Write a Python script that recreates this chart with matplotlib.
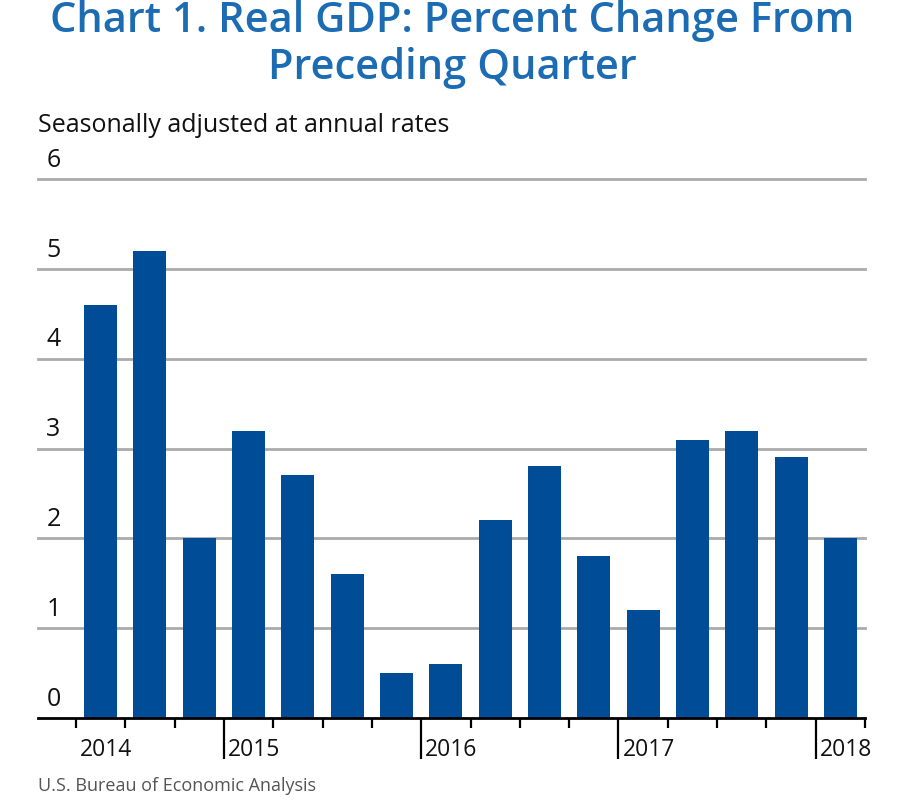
import matplotlib
matplotlib.use("Agg")
import matplotlib.pyplot as plt
import numpy as np

# quarterly real GDP change, 2014Q2 .. 2018Q1
quarters = ["2014Q2", "2014Q3", "2014Q4",
            "2015Q1", "2015Q2", "2015Q3", "2015Q4",
            "2016Q1", "2016Q2", "2016Q3", "2016Q4",
            "2017Q1", "2017Q2", "2017Q3", "2017Q4",
            "2018Q1"]
values = [4.6, 5.2, 2.0,
          3.2, 2.7, 1.6, 0.5,
          0.6, 2.2, 2.8, 1.8,
          1.2, 3.1, 3.2, 2.9,
          2.0]
years = ["2014", "2015", "2016", "2017", "2018"]
year_start = [-0.5, 2.5, 6.5, 10.5, 14.5]
yticks = [0, 1, 2, 3, 4, 5, 6]

bar_color = "#004c97"
title_color = "#1c6cb4"

plt.rcParams['font.family'] = ['Open Sans', 'DejaVu Sans']

fig = plt.figure(figsize=(9.05, 8.01), dpi=100)
ax = fig.add_axes([38 / 905, 1 - 718 / 801, 827 / 905, (718 - 179) / 801])

x = np.arange(len(values))
ax.bar(x, values, width=0.67, color=bar_color, zorder=3)

ax.set_xlim(-0.5 - 38 / 49.3, len(values) - 0.5)
ax.set_ylim(0, 6)

# gridlines
for v in yticks[1:]:
    ax.axhline(v, color="#aaaaaa", lw=2, zorder=1, clip_on=False)

# y labels above gridlines
for v in yticks:
    ax.text(0.01, v + 0.07, str(v), transform=ax.get_yaxis_transform(),
            fontsize=18, va="bottom", ha="left", color="#111111")

for s in ["top", "right", "left"]:
    ax.spines[s].set_visible(False)
ax.spines["bottom"].set_linewidth(2)
ax.spines["bottom"].set_zorder(4)

ax.set_yticks([])
ax.set_xticks(year_start[1:])
ax.set_xticks(np.arange(-0.5, len(values)), minor=True)
ax.tick_params(axis="x", which="major", length=29.5, width=1.6, labelbottom=False)
ax.tick_params(axis="x", which="minor", length=7.5, width=1.6)

for yr, xs in zip(years, year_start):
    ax.annotate(yr, xy=(xs, 0), xycoords=("data", "axes fraction"),
                xytext=(3, -23), textcoords="offset points",
                fontsize=16.5, va="center", ha="left", color="#111111")

fig.text(0.5, 1 - 21 / 801, "Chart 1. Real GDP: Percent Change From",
         ha="center", va="center", fontsize=30, fontweight="semibold", color=title_color)
fig.text(0.5, 1 - 68 / 801, "Preceding Quarter",
         ha="center", va="center", fontsize=30, fontweight="semibold", color=title_color)
fig.text(38 / 905, 1 - 125 / 801, "Seasonally adjusted at annual rates",
         ha="left", va="center", fontsize=18, color="#111111")
fig.text(38 / 905, 1 - 786 / 801, "U.S. Bureau of Economic Analysis",
         ha="left", va="center", fontsize=13, color="#555555")

fig.savefig("out.png", dpi=100)
